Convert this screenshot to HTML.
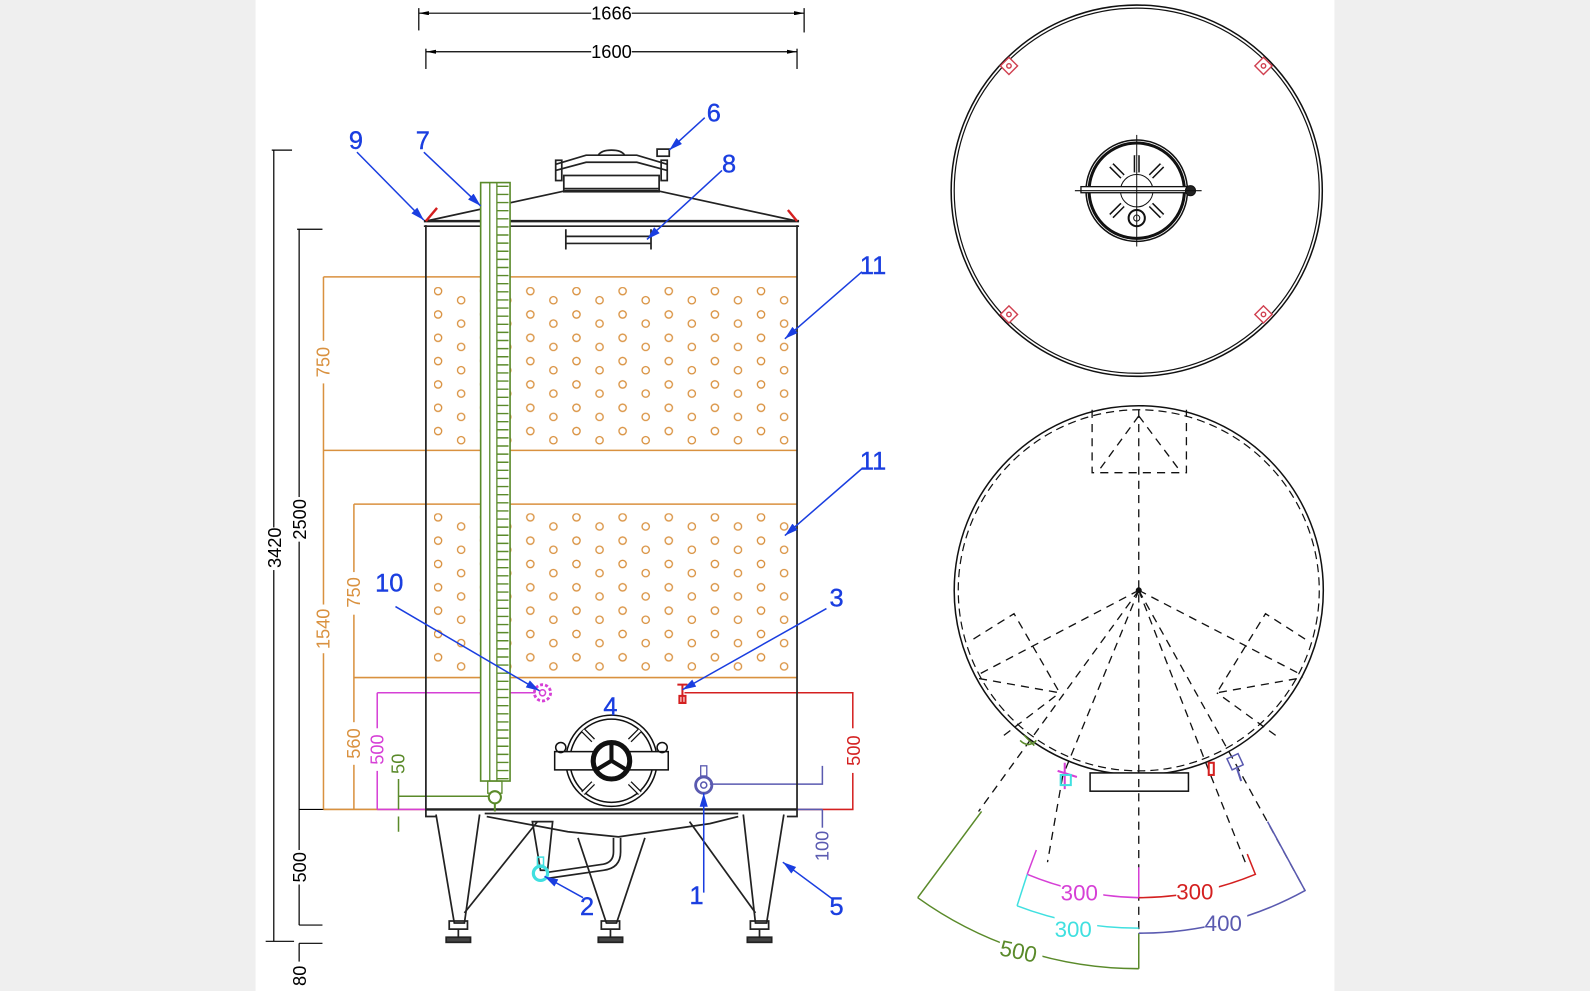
<!DOCTYPE html>
<html><head><meta charset="utf-8"><style>
html,body{margin:0;padding:0;background:#efefef;}
svg{display:block}
text{font-family:"Liberation Sans",sans-serif}
</style></head><body>
<svg width="1590" height="991" viewBox="0 0 1568 977" preserveAspectRatio="none" xmlns="http://www.w3.org/2000/svg">
<defs>
<pattern id="dimp" x="432" y="287" width="45.5" height="23" patternUnits="userSpaceOnUse">
<circle cx="0" cy="0" r="3.6" fill="none" stroke="#d9913f" stroke-width="1.3"/>
<circle cx="45.5" cy="0" r="3.6" fill="none" stroke="#d9913f" stroke-width="1.3"/>
<circle cx="22.75" cy="9" r="3.6" fill="none" stroke="#d9913f" stroke-width="1.3"/>
<circle cx="0" cy="23" r="3.6" fill="none" stroke="#d9913f" stroke-width="1.3"/>
<circle cx="45.5" cy="23" r="3.6" fill="none" stroke="#d9913f" stroke-width="1.3"/>
</pattern>
<pattern id="dimp2" x="432" y="510" width="45.5" height="23" patternUnits="userSpaceOnUse">
<circle cx="0" cy="0" r="3.6" fill="none" stroke="#d9913f" stroke-width="1.3"/>
<circle cx="45.5" cy="0" r="3.6" fill="none" stroke="#d9913f" stroke-width="1.3"/>
<circle cx="22.75" cy="9" r="3.6" fill="none" stroke="#d9913f" stroke-width="1.3"/>
<circle cx="0" cy="23" r="3.6" fill="none" stroke="#d9913f" stroke-width="1.3"/>
<circle cx="45.5" cy="23" r="3.6" fill="none" stroke="#d9913f" stroke-width="1.3"/>
</pattern>
<marker id="ab" viewBox="0 0 10 6" refX="10" refY="3" markerWidth="14" markerHeight="8" orient="auto" markerUnits="userSpaceOnUse"><path d="M0,0 L10,3 L0,6 Z" fill="#1a3ee0"/></marker>
<marker id="ak" viewBox="0 0 10 4" refX="10" refY="2" markerWidth="10" markerHeight="4" orient="auto-start-reverse" markerUnits="userSpaceOnUse"><path d="M0,0 L10,2 L0,4 Z" fill="#000"/></marker>
</defs>
<rect x="252" y="0" width="1064" height="977" fill="#fff"/>

<!-- top dims -->
<g stroke="#000" stroke-width="1.2" fill="none">
<line x1="413" y1="8" x2="413" y2="30"/><line x1="793" y1="8" x2="793" y2="32"/>
<line x1="413" y1="13" x2="583" y2="13" marker-start="url(#ak)"/><line x1="623" y1="13" x2="793" y2="13" marker-end="url(#ak)"/>
<line x1="420" y1="48" x2="420" y2="68"/><line x1="786" y1="48" x2="786" y2="68"/>
<line x1="420" y1="51" x2="583" y2="51" marker-start="url(#ak)"/><line x1="623" y1="51" x2="786" y2="51" marker-end="url(#ak)"/>
</g>
<text x="603" y="19" font-size="18" text-anchor="middle">1666</text>
<text x="603" y="57" font-size="18" text-anchor="middle">1600</text>

<!-- left dims black -->
<g stroke="#000" stroke-width="1.2" fill="none">
<line x1="268" y1="148" x2="288" y2="148"/>
<line x1="270" y1="148" x2="270" y2="928"/>
<line x1="262" y1="928" x2="290" y2="928"/>
<line x1="293" y1="226" x2="318" y2="226"/>
<line x1="295" y1="226" x2="295" y2="912"/>
<line x1="295" y1="798" x2="420" y2="798"/>
<line x1="295" y1="912" x2="318" y2="912"/>
<line x1="295" y1="930" x2="318" y2="930"/>
<line x1="295" y1="930" x2="295" y2="977"/>
</g>
<rect x="262" y="520" width="16" height="42" fill="#fff"/>
<text transform="translate(277,540) rotate(-90)" text-anchor="middle" font-size="18">3420</text>
<rect x="287" y="490" width="16" height="44" fill="#fff"/>
<text transform="translate(302,512) rotate(-90)" text-anchor="middle" font-size="18">2500</text>
<rect x="287" y="838" width="16" height="34" fill="#fff"/>
<text transform="translate(302,855) rotate(-90)" text-anchor="middle" font-size="18">500</text>
<rect x="287" y="948" width="16" height="29" fill="#fff"/>
<text transform="translate(302,962) rotate(-90)" text-anchor="middle" font-size="18">80</text>

<!-- orange dims -->
<g stroke="#d9913f" stroke-width="1.5" fill="none">
<line x1="319" y1="273" x2="786" y2="273"/>
<line x1="319" y1="444" x2="786" y2="444"/>
<line x1="349" y1="497" x2="786" y2="497"/>
<line x1="349" y1="668" x2="786" y2="668"/>
<line x1="319" y1="798" x2="420" y2="798"/>
<line x1="319" y1="273" x2="319" y2="798"/>
<line x1="349" y1="497" x2="349" y2="798"/>
</g>
<g fill="#d9913f" font-size="18" text-anchor="middle">
<rect x="310" y="336" width="18" height="42" fill="#fff"/>
<text transform="translate(325,357) rotate(-90)">750</text>
<rect x="310" y="596" width="18" height="48" fill="#fff"/>
<text transform="translate(325,620) rotate(-90)">1540</text>
<rect x="340" y="564" width="18" height="42" fill="#fff"/>
<text transform="translate(355,584) rotate(-90)">750</text>
<rect x="340" y="712" width="18" height="42" fill="#fff"/>
<text transform="translate(355,733) rotate(-90)">560</text>
</g>
<g fill="none" stroke-width="1.5">
<path d="M372,683 H528 M372,683 V798 M372,798 H420" stroke="#d640d6"/>
<path d="M393,785 H487 M393,760 V798 M393,805 V820" stroke="#5a8a2a"/>
</g>
<rect x="363" y="718" width="18" height="42" fill="#fff"/>
<text transform="translate(378,739) rotate(-90)" fill="#d640d6" font-size="18" text-anchor="middle">500</text>
<rect x="384" y="738" width="18" height="30" fill="#fff"/>
<text transform="translate(399,753) rotate(-90)" fill="#5a8a2a" font-size="18" text-anchor="middle">50</text>
<g fill="none" stroke-width="1.5">
<path d="M675,683 H841 V798 H786" stroke="#d42020"/>
<path d="M700,773 H811 V755 M811,798 V850 M786,798 H811" stroke="#5a5ab0"/>
</g>
<rect x="832" y="718" width="18" height="44" fill="#fff"/>
<text transform="translate(848,740) rotate(-90)" fill="#d42020" font-size="18" text-anchor="middle">500</text>
<rect x="802" y="816" width="18" height="36" fill="#fff"/>
<text transform="translate(817,834) rotate(-90)" fill="#5a5ab0" font-size="18" text-anchor="middle">100</text>

<!-- dimples -->
<rect x="428" y="283" width="353" height="156" fill="url(#dimp)"/>
<rect x="428" y="506" width="353" height="156" fill="url(#dimp2)"/>

<!-- tank body -->
<g stroke="#222" stroke-width="1.7" fill="none">
<line x1="420" y1="222" x2="420" y2="798"/>
<line x1="786" y1="222" x2="786" y2="798"/>
<line x1="418" y1="218" x2="788" y2="218" stroke-width="2.4"/>
<line x1="418" y1="223" x2="788" y2="223"/>
<path d="M420,218 L558,188 L648,188 L786,218"/>
<rect x="556" y="173" width="94" height="16"/>
<line x1="556" y1="186" x2="650" y2="186"/>
<path d="M548,162 L578,153 L628,153 L658,162 M548,168 L578,160 L628,160 L658,168"/>
<path d="M590,153 Q593,148 603,148 Q613,148 616,153"/>
<rect x="548" y="158" width="6" height="20"/><rect x="652" y="158" width="6" height="20"/>
<rect x="648" y="147" width="12" height="7"/>
<path d="M558,226 V246 M642,226 V246 M558,233 H642 M558,240 H642"/>
<line x1="420" y1="798" x2="786" y2="798" stroke-width="2.4"/>
<path d="M420,798 V805 H430 M786,798 V805 H776"/>
<path d="M478,802 H728 M480,805 L560,820 L610,825 L700,812 L728,805"/>
<path d="M430,803 L448,910 L458,910 L473,803"/>
<path d="M458,900 L530,810"/>
<path d="M733,803 L745,910 L756,910 L773,803"/>
<path d="M745,900 L680,810"/>
<path d="M570,826 L598,910 L608,910 L636,826"/>
<rect x="443" y="908" width="18" height="8"/><rect x="740" y="908" width="18" height="8"/><rect x="593" y="908" width="18" height="8"/>
<line x1="452" y1="916" x2="452" y2="924"/><line x1="749" y1="916" x2="749" y2="924"/><line x1="602" y1="916" x2="602" y2="924"/>
<rect x="440" y="924" width="24" height="5" fill="#444"/><rect x="737" y="924" width="24" height="5" fill="#444"/><rect x="590" y="924" width="24" height="5" fill="#444"/>
<path d="M525,810 L533,858 L540,858 L545,810 Z"/>
<path d="M540,860 L595,852 Q605,850 605,840 L605,826 M540,866 L595,858 Q612,856 612,840 L612,826"/>
</g>
<!-- gauge -->
<rect x="474" y="180" width="29" height="590" fill="#fff" stroke="#5a8a2a" stroke-width="1.6"/>
<line x1="483" y1="180" x2="483" y2="770" stroke="#5a8a2a" stroke-width="1.3"/>
<line x1="490" y1="180" x2="490" y2="770" stroke="#5a8a2a" stroke-width="1.3"/>
<line x1="496" y1="183" x2="496" y2="770" stroke="#5a8a2a" stroke-width="11" stroke-dasharray="1.4 6.6"/>
<rect x="481" y="770" width="14" height="12" fill="none" stroke="#5a8a2a" stroke-width="1.3"/>
<circle cx="488" cy="786" r="6" fill="#fff" stroke="#5a8a2a" stroke-width="2"/>
<line x1="488" y1="792" x2="488" y2="800" stroke="#5a8a2a" stroke-width="2"/>
<path d="M420,218 L431,205 M786,218 L777,207" stroke="#d42020" stroke-width="2.4" fill="none"/>
<circle cx="535" cy="683" r="8" fill="none" stroke="#d640d6" stroke-width="2.8" stroke-dasharray="3 2"/>
<circle cx="535" cy="683" r="3" fill="none" stroke="#d640d6" stroke-width="1.5"/>
<path d="M668,675 H678 M673,675 V692 M670,686 H676 V693 H670 Z" stroke="#d42020" stroke-width="2" fill="none"/>
<circle cx="694" cy="774" r="8" fill="none" stroke="#5a5ab0" stroke-width="2.8"/>
<circle cx="694" cy="774" r="3" fill="none" stroke="#5a5ab0" stroke-width="1.5"/>
<rect x="691" y="755" width="6" height="10" fill="none" stroke="#5a5ab0" stroke-width="1.3"/>
<circle cx="533" cy="861" r="7" fill="none" stroke="#40e0e0" stroke-width="3.2"/>
<rect x="530" y="845" width="6" height="8" fill="none" stroke="#40e0e0" stroke-width="1.5"/>
<g stroke="#111" fill="none" stroke-width="1.5">
<circle cx="603" cy="750" r="45"/><circle cx="603" cy="750" r="41"/>
<rect x="547" y="741" width="112" height="18" fill="#fff"/>
<circle cx="553" cy="737" r="5"/><circle cx="653" cy="737" r="5"/>
<path d="M585,730 L575,720 M621,730 L631,720 M585,772 L575,782 M621,772 L631,782" stroke-width="5"/>
<path d="M585,730 L575,720 M621,730 L631,720 M585,772 L575,782 M621,772 L631,782" stroke="#fff" stroke-width="2.5"/>
<circle cx="603" cy="750" r="18" fill="#fff" stroke-width="5"/>
<path d="M603,750 V733 M603,750 L588,759 M603,750 L618,759" stroke-width="4"/>
</g>

<!-- leaders -->
<g stroke="#1a3ee0" stroke-width="1.5" fill="none">
<line x1="352" y1="150" x2="418" y2="217" marker-end="url(#ab)"/>
<line x1="418" y1="150" x2="474" y2="203" marker-end="url(#ab)"/>
<line x1="695" y1="116" x2="660" y2="148" marker-end="url(#ab)"/>
<line x1="712" y1="168" x2="638" y2="236" marker-end="url(#ab)"/>
<line x1="850" y1="268" x2="774" y2="334" marker-end="url(#ab)"/>
<line x1="850" y1="462" x2="774" y2="528" marker-end="url(#ab)"/>
<line x1="390" y1="598" x2="532" y2="681" marker-end="url(#ab)"/>
<line x1="815" y1="600" x2="673" y2="680" marker-end="url(#ab)"/>
<line x1="694" y1="880" x2="694" y2="782" marker-end="url(#ab)"/>
<line x1="575" y1="885" x2="537" y2="864" marker-end="url(#ab)"/>
<line x1="822" y1="887" x2="772" y2="850" marker-end="url(#ab)"/>
</g>
<g fill="#1a3ee0" font-size="25" stroke="#1a3ee0" stroke-width="0.4">
<text x="344" y="147">9</text><text x="410" y="147">7</text>
<text x="697" y="120">6</text><text x="712" y="170">8</text>
<text x="848" y="270">11</text><text x="848" y="463">11</text>
<text x="370" y="583">10</text><text x="818" y="598">3</text>
<text x="595" y="705">4</text><text x="680" y="891">1</text>
<text x="572" y="902">2</text><text x="818" y="902">5</text>
</g>

<!-- TOP VIEW -->
<g stroke="#111" fill="none">
<circle cx="1121" cy="188" r="183" stroke-width="1.5"/>
<circle cx="1121" cy="188" r="180" stroke-width="1.2"/>
<circle cx="1121" cy="188" r="50" stroke-width="1.5"/>
<circle cx="1121" cy="188" r="47" stroke-width="3"/>
<circle cx="1121" cy="188" r="16" stroke-width="1"/>
<path d="M1107,174 L1096,163 M1135,174 L1146,163 M1107,202 L1096,213 M1135,202 L1146,213 M1121,170 V153" stroke-width="6"/>
<path d="M1107,174 L1096,163 M1135,174 L1146,163 M1107,202 L1096,213 M1135,202 L1146,213 M1121,170 V153" stroke="#fff" stroke-width="3"/>
<rect x="1066" y="184" width="108" height="6" fill="#fff" stroke-width="1.3"/>
<circle cx="1174" cy="188" r="5" fill="#222"/>
<circle cx="1121" cy="215" r="8" stroke-width="2"/><circle cx="1121" cy="215" r="3"/>
<line x1="1060" y1="188" x2="1185" y2="188" stroke-width="1"/>
<line x1="1121" y1="133" x2="1121" y2="243" stroke-width="1"/>
</g>
<g stroke="#d04050" fill="#fff" stroke-width="1.4">
<rect x="989" y="59" width="12" height="12" transform="rotate(-45 995 65)"/><circle cx="995" cy="65" r="2.2"/>
<rect x="1240" y="59" width="12" height="12" transform="rotate(45 1246 65)"/><circle cx="1246" cy="65" r="2.2"/>
<rect x="989" y="304" width="12" height="12" transform="rotate(45 995 310)"/><circle cx="995" cy="310" r="2.2"/>
<rect x="1240" y="304" width="12" height="12" transform="rotate(-45 1246 310)"/><circle cx="1246" cy="310" r="2.2"/>
</g>

<!-- BOTTOM VIEW -->
<g stroke="#111" fill="none" stroke-width="1.5">
<circle cx="1123" cy="582" r="182"/>
<circle cx="1123" cy="582" r="178" stroke-dasharray="8 5" stroke-width="1.2"/>
<rect x="1075" y="762" width="97" height="18" fill="#fff"/>
</g>
<g stroke="#111" fill="none" stroke-width="1.3" stroke-dasharray="8 6">
<path d="M1077,404 V466 H1170 V404"/>
<path d="M1123,404 V955 M1123,410 L1085,462 M1123,410 L1162,462"/>
<path d="M1123,582 L965,800 M1123,582 L1048,765 M1048,765 L1033,850 M1123,582 L1193,762 L1228,850 M1123,582 L1218,752 L1287,878"/>
<path d="M1123,582 L965,665 M1123,582 L1283,665"/>
<path d="M960,630 L1000,605 L1045,683 L960,668 M990,725 L1045,683"/>
<path d="M1287,630 L1248,605 L1200,683 L1285,668 M1258,725 L1200,683"/>
</g>
<circle cx="1123" cy="582" r="3" fill="#111"/>
<g fill="none" stroke-width="1.5">
<path d="M968,800 L905,885" stroke="#5a8a2a"/>
<path d="M905,885 A373,373 0 0 0 1123,955" stroke="#5a8a2a"/>
<path d="M1123,920 V955" stroke="#5a8a2a"/>
<path d="M1013,862 A303,303 0 0 0 1123,885 M1013,862 L1022,838" stroke="#d640d6"/>
<path d="M1123,855 V885" stroke="#d640d6"/>
<path d="M1003,893 A333,333 0 0 0 1123,915 M1003,893 L1013,862" stroke="#40e0e0"/>
<path d="M1123,885 A303,303 0 0 0 1238,862 L1230,842" stroke="#d42020"/>
<path d="M1123,920 A338,338 0 0 0 1287,878 L1250,810" stroke="#5a5ab0"/>
<path d="M1010,725 l10,10 M1006,730 q8,8 16,0" stroke="#5a8a2a" stroke-width="1.5"/>
<path d="M1043,760 L1062,766 M1050,752 V778" stroke="#d640d6" stroke-width="2"/>
<rect x="1046" y="764" width="10" height="10" stroke="#40e0e0" stroke-width="2"/>
<rect x="1192" y="752" width="5" height="12" stroke="#d42020" stroke-width="2"/>
<rect x="1212" y="745" width="12" height="12" stroke="#5a5ab0" stroke-width="1.5" transform="rotate(-25 1218 751)"/>
<path d="M1220,758 L1224,770" stroke="#5a5ab0" stroke-width="2"/>
</g>
<g font-size="22">
<rect x="1046" y="868" width="42" height="22" fill="#fff"/>
<text x="1046" y="888" fill="#d640d6">300</text>
<rect x="1160" y="866" width="42" height="22" fill="#fff"/>
<text x="1160" y="887" fill="#d42020">300</text>
<rect x="1040" y="903" width="42" height="22" fill="#fff"/>
<text x="1040" y="924" fill="#40e0e0">300</text>
<rect x="1188" y="896" width="42" height="22" fill="#fff"/>
<text x="1188" y="918" fill="#5a5ab0">400</text>
<rect x="986" y="926" width="42" height="24" fill="#fff"/>
<text x="986" y="946" fill="#5a8a2a" transform="rotate(12 1007 938)">500</text>
</g>
</svg>
</body></html>
